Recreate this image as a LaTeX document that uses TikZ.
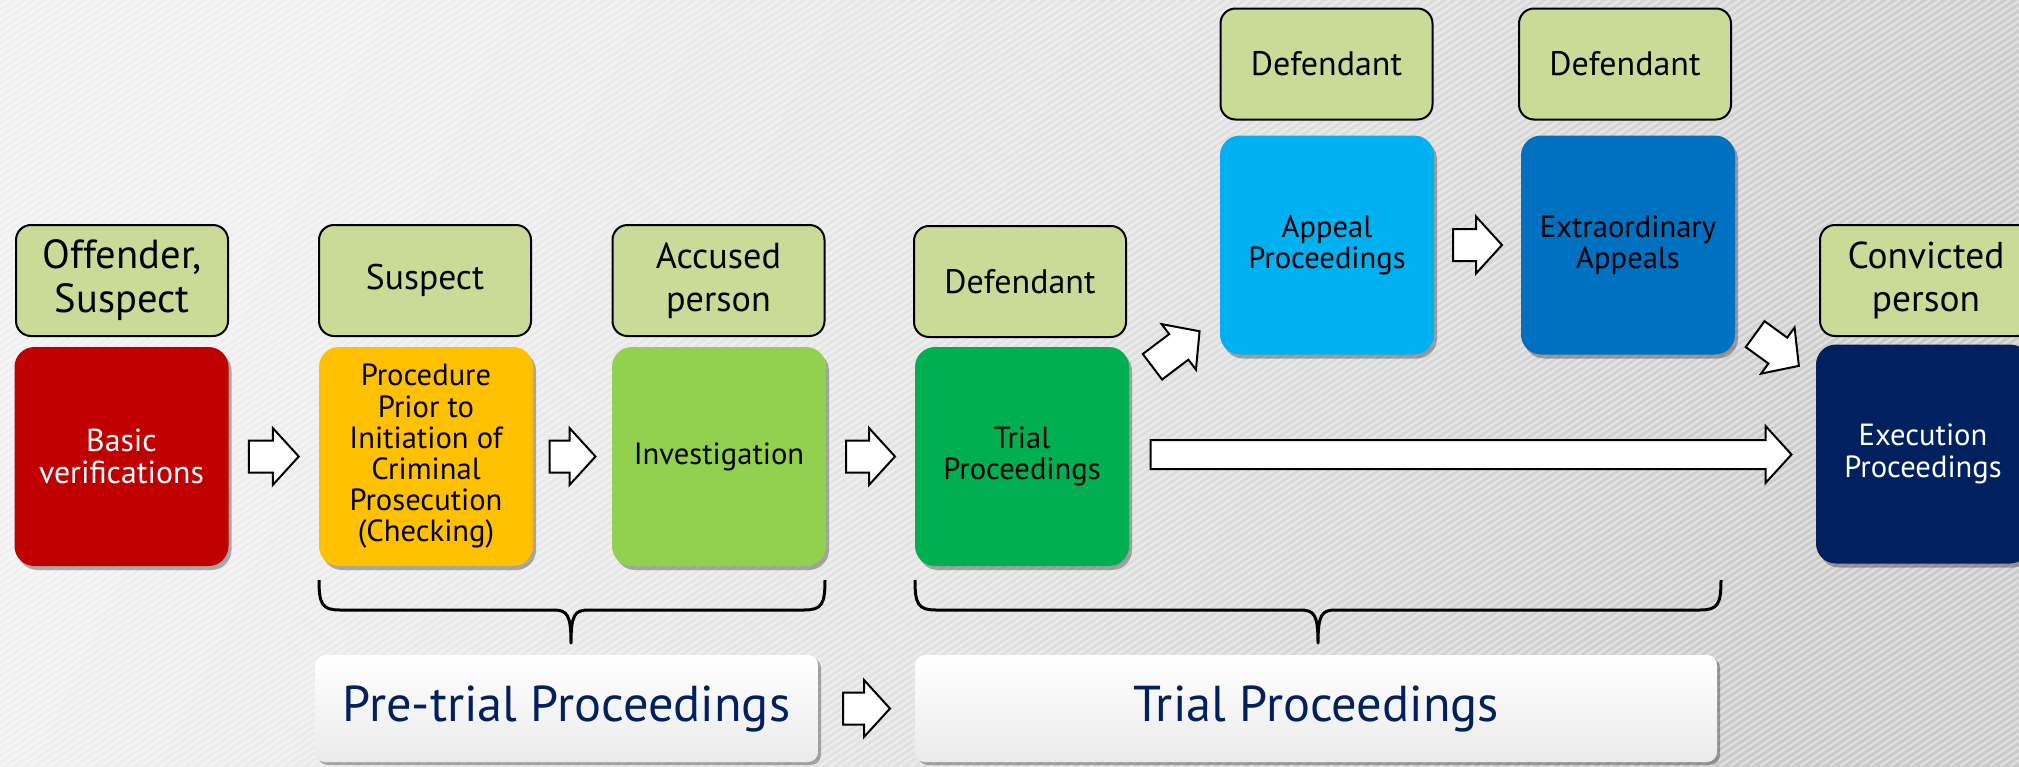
\documentclass[tikz,border=0pt]{standalone}
\usepackage{fontspec}
\setmainfont{PT Sans}
\usetikzlibrary{calc,shadows}
\definecolor{bgL}{HTML}{F0F0F0}
\definecolor{bgM}{HTML}{E2E2E2}
\definecolor{bgR}{HTML}{CACACA}
\definecolor{labg}{HTML}{CADB98}
\definecolor{cred}{HTML}{C00000}
\definecolor{cyel}{HTML}{FFC000}
\definecolor{clgr}{HTML}{92D050}
\definecolor{cgrn}{HTML}{00B050}
\definecolor{clbl}{HTML}{00B0F0}
\definecolor{cblu}{HTML}{0070C0}
\definecolor{cnav}{HTML}{002060}
\tikzset{
  x=0.5pt, y=-0.5pt,
  lab/.style={draw=black, line width=1pt, fill=labg, rounded corners=7.5pt,
    minimum width=106pt, minimum height=55.5pt, inner sep=0pt, align=center,
    font=\fontsize{17}{21}\selectfont},
  stage/.style={rounded corners=10pt, minimum width=107pt, minimum height=109.5pt,
    inner sep=0pt, align=center, font=\fontsize{15.3}{15.6}\selectfont,
    drop shadow={shadow xshift=1.5pt, shadow yshift=-2pt, opacity=0.3, fill=black}},
  phase/.style={rounded corners=5pt, top color=white, bottom color=black!8,
    inner sep=0pt, minimum height=53.5pt, text=cnav,
    font=\fontsize{25.2}{29}\selectfont,
    drop shadow={shadow xshift=1.5pt, shadow yshift=-1.5pt, opacity=0.3, fill=black}},
  barrowst/.style={draw=black, line width=1pt, fill=white, line join=miter},
  bracest/.style={draw=black, line width=1.5pt, line join=round},
  hatch/.style={draw=white, line width=1.2pt, opacity=0.4}
}
\newcommand\blockarr[4][16]{%
  \begin{scope}[shift={#2},rotate=#3]
    \pgfmathsetmacro\ha{#4/2}\pgfmathsetmacro\hb{#4/2-26}
    \draw[barrowst] (-\ha,-#1) -- (\hb,-#1) -- (\hb,-28.5) -- (\ha,0) -- (\hb,28.5) -- (\hb,#1) -- (-\ha,#1) -- cycle;
  \end{scope}}
\begin{document}
\begin{tikzpicture}
\useasboundingbox (0,0) rectangle (2019,766);
\begin{scope}
\clip (0,0) rectangle (2019,766);
\shade[top color=bgL, bottom color=bgR, middle color=bgM, shading angle=65] (0,0) rectangle (2019,766);
\foreach \i in {0,10,...,3200} \draw[hatch] (\i,0) -- ({\i-1150},766);

% labels
\node[lab, font=\fontsize{20.3}{22}\selectfont] (l1) at (122,280.5) {Offender,\\Suspect};
\node[lab, font=\fontsize{17.8}{21}\selectfont] (l2) at (425,280.5) {Suspect};
\node[lab, font=\fontsize{18.1}{21.5}\selectfont] (l3) at (718.5,280.5) {Accused\\person};
\node[lab] (l4) at (1020,281.5) {Defendant};
\node[lab] (l5) at (1326.5,64) {Defendant};
\node[lab] (l6) at (1625,64) {Defendant};
\node[lab, font=\fontsize{18.7}{21.5}\selectfont] (l7) at (1926,280.5) {Convicted\\person};

% stages
\node[stage, fill=cred, text=white, font=\fontsize{15.9}{16}\selectfont] (b1) at (121.5,456.5) {Basic\\verifications};
\node[stage, fill=cyel] (b2) at (426,456.5) {Procedure\\Prior to\\Initiation of\\Criminal\\Prosecution\\(Checking)};
\node[stage, fill=clgr] (b3) at (719,456.5) {Investigation};
\node[stage, fill=cgrn] (b4) at (1022,456.5) {Trial\\Proceedings};
\node[stage, fill=clbl] (b5) at (1327,245) {Appeal\\Proceedings};
\node[stage, fill=cblu] (b6) at (1628,245) {Extraordinary\\Appeals};
\node[stage, fill=cnav, text=white] (b7) at (1923,454) {Execution\\Proceedings};

% phases
\node[phase, minimum width=251.5pt] (p1) at (566.5,708.5) {Pre-trial Proceedings};
\node[phase, minimum width=401pt] (p2) at (1316,708.5) {Trial Proceedings};

% block arrows
\blockarr{($(b1.east)!0.5!(b2.west)$)}{0}{50}
\blockarr{($(b2.east)!0.5!(b3.west)$)}{0}{46}
\blockarr{($(b3.east)!0.5!(b4.west)$)}{0}{49}
\blockarr{($(b5.east)!0.5!(b6.west)$)}{0}{49}
\blockarr{($(p1.east)!0.5!(p2.west)$)}{0}{47}
\coordinate (la) at ($(b4.east)+(21,-1.5)$);
\coordinate (lb) at ($(b7.west)+(-24,0)$);
\blockarr[14.5]{($(la)!0.5!(lb)$)}{0}{641}
\blockarr{(1176,349)}{37}{59}
\blockarr{(1777,350)}{-36}{54}

% braces
\draw[bracest] (319,580) .. controls (319,604) and (322,610) .. (340,610) -- (553,610)
  .. controls (567,610) and (571,614) .. (571,643)
  .. controls (571,614) and (575,610) .. (589,610) -- (804,610)
  .. controls (822,610) and (825,604) .. (825,580);
\draw[bracest] (915,580) .. controls (915,604) and (918,610) .. (936,610) -- (1300,610)
  .. controls (1314,610) and (1318,614) .. (1318,643)
  .. controls (1318,614) and (1322,610) .. (1336,610) -- (1700,610)
  .. controls (1718,610) and (1721,604) .. (1721,580);
\end{scope}
\end{tikzpicture}
\end{document}
